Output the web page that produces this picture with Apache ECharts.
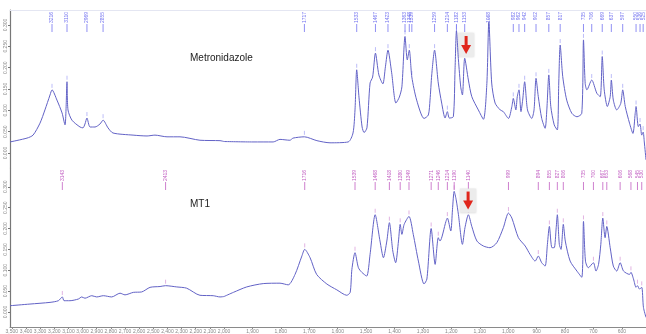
<!DOCTYPE html>
<html>
<head>
<meta charset="utf-8">
<script src="https://cdn.jsdelivr.net/npm/echarts@6/dist/echarts.min.js"></script>
<style>
  html, body { margin: 0; padding: 0; background: #fff; }
  #chart { width: 646px; height: 334px; }
</style>
</head>
<body>
<div id="chart"></div>
<script>
// FTIR spectra: [wavenumber (cm-1), absorbance]
const metroSpectrum = [
  [3513,0.026],[3393,0.035],[3350,0.042],[3301,0.070],[3266,0.101],[3230,0.136],[3216,0.148],[3181,0.124],
  [3145,0.094],[3124,0.066],[3117,0.101],[3110,0.167],[3103,0.101],[3075,0.077],[3018,0.061],[2997,0.059],
  [2983,0.068],[2969,0.082],[2947,0.061],[2912,0.061],[2877,0.068],[2855,0.077],[2820,0.059],[2785,0.047],
  [2643,0.042],[2544,0.040],[2488,0.042],[2403,0.038],[2311,0.038],[2170,0.030],[2028,0.029],[2000,0.027],
  [1898,0.026],[1827,0.026],[1803,0.032],[1768,0.030],[1757,0.035],[1717,0.038],[1673,0.029],[1627,0.024],
  [1563,0.026],[1546,0.047],[1539,0.101],[1533,0.195],[1525,0.131],[1514,0.061],[1507,0.048],[1497,0.059],
  [1486,0.164],[1477,0.178],[1467,0.234],[1455,0.183],[1441,0.162],[1432,0.202],[1423,0.241],[1410,0.188],
  [1395,0.117],[1383,0.131],[1374,0.155],[1363,0.273],[1355,0.218],[1348,0.241],[1339,0.178],[1322,0.124],
  [1296,0.081],[1281,0.089],[1275,0.124],[1269,0.183],[1259,0.241],[1246,0.164],[1234,0.117],[1222,0.082],
  [1214,0.097],[1207,0.082],[1193,0.085],[1187,0.195],[1182,0.286],[1175,0.218],[1167,0.155],[1161,0.136],
  [1153,0.222],[1140,0.171],[1128,0.132],[1105,0.101],[1087,0.079],[1075,0.163],[1068,0.307],[1058,0.164],
  [1046,0.117],[1028,0.101],[1017,0.097],[999,0.081],[987,0.109],[982,0.128],[973,0.101],[968,0.132],
  [962,0.148],[955,0.097],[949,0.124],[942,0.167],[932,0.101],[917,0.081],[909,0.101],[902,0.175],
  [894,0.132],[882,0.081],[870,0.058],[864,0.101],[857,0.183],[850,0.109],[838,0.066],[827,0.054],
  [822,0.164],[817,0.253],[808,0.179],[794,0.124],[776,0.093],[758,0.085],[741,0.093],[735,0.265],
  [729,0.163],[723,0.148],[706,0.171],[688,0.140],[676,0.132],[669,0.226],[662,0.148],[651,0.109],
  [641,0.132],[637,0.171],[630,0.124],[618,0.101],[604,0.116],[597,0.148],[588,0.109],[573,0.070],
  [561,0.046],[553,0.093],[550,0.109],[542,0.062],[536,0.068],[530,0.042],[525,0.049],[521,0.026],[515,-0.016]
];

const mt1Spectrum = [
  [3513,0.015],[3372,0.019],[3230,0.023],[3171,0.027],[3143,0.036],[3131,0.027],[3089,0.027],[3030,0.031],
  [3006,0.036],[2983,0.033],[2935,0.039],[2900,0.036],[2853,0.039],[2794,0.036],[2735,0.045],[2700,0.041],
  [2641,0.047],[2582,0.048],[2523,0.059],[2452,0.061],[2413,0.063],[2334,0.060],[2264,0.057],[2170,0.040],
  [2076,0.039],[2028,0.036],[2000,0.037],
  [1967,0.047],[1920,0.060],[1862,0.068],[1803,0.069],[1774,0.065],[1750,0.090],[1726,0.134],[1716,0.150],
  [1697,0.130],[1674,0.090],[1638,0.067],[1603,0.053],[1568,0.040],[1556,0.047],[1550,0.102],[1539,0.142],
  [1527,0.106],[1515,0.095],[1498,0.086],[1486,0.138],[1468,0.233],[1451,0.170],[1439,0.130],[1427,0.170],
  [1418,0.214],[1406,0.146],[1396,0.118],[1386,0.170],[1380,0.210],[1374,0.186],[1366,0.210],[1349,0.229],
  [1334,0.186],[1316,0.122],[1296,0.067],[1286,0.079],[1271,0.200],[1257,0.114],[1246,0.178],[1240,0.170],
  [1219,0.217],[1214,0.225],[1202,0.194],[1196,0.245],[1190,0.289],[1183,0.269],[1175,0.233],[1161,0.162],
  [1152,0.202],[1140,0.233],[1128,0.205],[1110,0.170],[1087,0.158],[1064,0.154],[1040,0.166],[1017,0.202],
  [999,0.237],[987,0.225],[964,0.178],[940,0.158],[923,0.138],[905,0.122],[894,0.134],[882,0.118],
  [870,0.110],[862,0.162],[855,0.205],[846,0.154],[838,0.154],[831,0.202],[827,0.233],[820,0.162],
  [814,0.150],[806,0.210],[799,0.170],[782,0.122],[758,0.098],[741,0.083],[735,0.217],[728,0.122],
  [718,0.106],[700,0.118],[691,0.098],[682,0.114],[674,0.162],[667,0.225],[659,0.178],[653,0.205],
  [641,0.154],[630,0.110],[618,0.098],[606,0.118],[594,0.098],[573,0.090],[568,0.095],[559,0.079],
  [550,0.059],[545,0.063],[538,0.055],[530,0.059],[524,0.011],[515,-0.013]
];

// Picked peak positions (cm-1)
const metroPeaks = [3216,3110,2969,2855,1717,1533,1467,1423,1363,1348,1339,1259,1214,1182,1153,1068,
  982,962,942,902,857,817,735,706,669,637,597,550,536,525];
const mt1Peaks = [3143,2413,1716,1539,1468,1418,1380,1349,1271,1246,1214,1190,1140,999,894,855,827,806,
  735,700,667,653,606,568,545,530];

// Highlighted band (arrow marker): [wavenumber, absorbance]
const metroArrow = [1148, 0.253];
const mt1Arrow = [1141, 0.267];

// Tick labels
const absTicks = [0, 0.05, 0.10, 0.15, 0.20, 0.25, 0.30];
const wnTicksHigh = [3500,3400,3300,3200,3100,3000,2900,2800,2700,2600,2500,2400,2300,2200,2100];
const wnTicksLow = [2000,1900,1800,1700,1600,1500,1400,1300,1200,1100,1000,900,800,700,600];

const SPLIT = 2000;
const highPart = s => s.filter(p => p[0] >= SPLIT);
const lowPart = s => s.filter(p => p[0] <= SPLIT);
const absAt = (spec, wn) => spec.find(p => p[0] === wn)[1];

const lineColor = '#6262c6';
const metroLabelColor = '#7474f0';
const mt1LabelColor = '#c260c2';
const font = 'Liberation Sans, Arial, sans-serif';

function spectrumLine(spec, idx) {
  return {
    type: 'line', xAxisIndex: idx, yAxisIndex: idx, data: spec,
    showSymbol: false, smooth: 0.25, silent: true,
    lineStyle: { color: lineColor, width: 1 }
  };
}

function peakMarks(spec, peaks, idx, color) {
  return {
    type: 'custom', xAxisIndex: idx, yAxisIndex: idx, silent: true, clip: false,
    data: peaks.map(w => [w, absAt(spec, w)]),
    renderItem: (params, api) => {
      const p = api.coord([api.value(0), api.value(1)]);
      const top = params.coordSys.y;
      return {
        type: 'group',
        children: [
          { type: 'text', x: p[0], y: top + 2, rotation: Math.PI / 2,
            style: { text: String(api.value(0)), fontSize: 5, fontFamily: font, fill: color,
                     align: 'right', verticalAlign: 'middle' } },
          { type: 'line', shape: { x1: p[0], y1: top + 14, x2: p[0], y2: top + 22 },
            style: { stroke: color, lineWidth: 0.8 } },
          { type: 'line', shape: { x1: p[0], y1: p[1] - 6, x2: p[0], y2: p[1] - 2 },
            style: { stroke: color, lineWidth: 0.6, opacity: 0.8 } }
        ]
      };
    }
  };
}

function arrowMark(pos, idx) {
  return {
    type: 'custom', xAxisIndex: idx, yAxisIndex: idx, silent: true, clip: false,
    data: [pos],
    renderItem: (params, api) => {
      const c = api.coord([api.value(0), api.value(1)]);
      return {
        type: 'group', x: c[0], y: c[1],
        children: [
          { type: 'rect', shape: { x: -8, y: -12, width: 16, height: 24 },
            style: { fill: '#ececec', shadowBlur: 2, shadowColor: 'rgba(0,0,0,0.15)' } },
          { type: 'rect', shape: { x: -1.5, y: -9, width: 3, height: 10 },
            style: { fill: '#e0261c' } },
          { type: 'polygon', shape: { points: [[-5, 0], [5, 0], [0, 9]] },
            style: { fill: '#e0261c' } }
        ]
      };
    }
  };
}

const grids = [
  { left: 10, top: 10, width: 214, height: 158 },
  { left: 224, top: 10, width: 422, height: 158 },
  { left: 10, top: 168, width: 214, height: 160 },
  { left: 224, top: 168, width: 422, height: 160 }
];

const hiddenX = (grid, min, max) => ({
  type: 'value', gridIndex: grid, min, max, inverse: true, position: 'top',
  axisLine: { show: true, onZero: false, lineStyle: { color: '#e4e6f2', width: 1 } },
  axisTick: { show: false }, axisLabel: { show: false }, splitLine: { show: false }
});

const shownX = (grid, min, max, ticks) => ({
  type: 'value', gridIndex: grid, min, max, inverse: true, position: 'bottom',
  axisLine: { show: true, onZero: false, lineStyle: { color: '#8a8a8a', width: 1 } },
  axisTick: { show: true, length: 2, customValues: ticks, lineStyle: { color: '#8a8a8a' } },
  axisLabel: { customValues: ticks, fontSize: 5, margin: 2, color: '#888', fontFamily: font },
  splitLine: { show: false }
});

const absAxis = (grid, min, max, show) => ({
  type: 'value', gridIndex: grid, min, max, show,
  axisLine: { show: true, onZero: false, lineStyle: { color: '#777', width: 1.2 } },
  axisTick: { show: true, length: 2, customValues: absTicks, lineStyle: { color: '#777' } },
  axisLabel: { customValues: absTicks, rotate: 90, fontSize: 5, margin: 2, color: '#888',
               fontFamily: font, formatter: v => v.toFixed(3) },
  splitLine: { show: false }
});

const chart = echarts.init(document.getElementById('chart'), null, { renderer: 'canvas' });
chart.setOption({
  animation: false,
  backgroundColor: '#fff',
  title: [
    { text: 'Metronidazole', left: 190, top: 53, padding: 0,
      textStyle: { fontSize: 10, fontWeight: 'normal', color: '#222', fontFamily: font } },
    { text: 'MT1', left: 190, top: 199, padding: 0,
      textStyle: { fontSize: 10, fontWeight: 'normal', color: '#222', fontFamily: font } }
  ],
  grid: grids,
  xAxis: [
    hiddenX(0, SPLIT, 3513),
    hiddenX(1, 515, SPLIT),
    shownX(2, SPLIT, 3513, wnTicksHigh),
    shownX(3, 515, SPLIT, wnTicksLow)
  ],
  yAxis: [
    absAxis(0, -0.035, 0.335, true),
    absAxis(1, -0.035, 0.335, false),
    absAxis(2, -0.036, 0.345, true),
    absAxis(3, -0.036, 0.345, false)
  ],
  series: [
    spectrumLine(highPart(metroSpectrum), 0),
    spectrumLine(lowPart(metroSpectrum), 1),
    spectrumLine(highPart(mt1Spectrum), 2),
    spectrumLine(lowPart(mt1Spectrum), 3),
    peakMarks(metroSpectrum, metroPeaks.filter(w => w > SPLIT), 0, metroLabelColor),
    peakMarks(metroSpectrum, metroPeaks.filter(w => w < SPLIT), 1, metroLabelColor),
    peakMarks(mt1Spectrum, mt1Peaks.filter(w => w > SPLIT), 2, mt1LabelColor),
    peakMarks(mt1Spectrum, mt1Peaks.filter(w => w < SPLIT), 3, mt1LabelColor),
    arrowMark(metroArrow, 1),
    arrowMark(mt1Arrow, 3)
  ]
});
</script>
</body>
</html>
